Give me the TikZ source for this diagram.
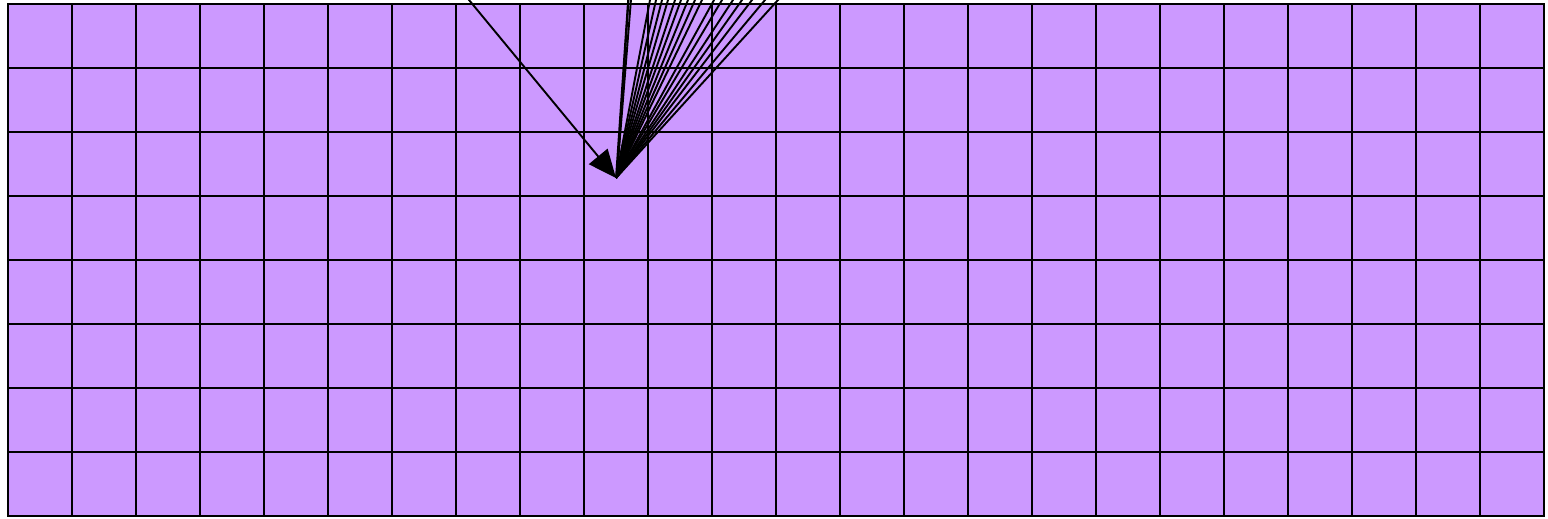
\documentclass[tikz,border=0pt]{standalone}
\usepackage{tikz}
\usetikzlibrary{arrows.meta,calc}
\definecolor{cellfill}{HTML}{CC99FF}

\begin{document}
\begin{tikzpicture}[x=1pt,y=-1pt,
  cell/.style={draw,fill=cellfill,line width=1.6pt,minimum size=64pt,inner sep=0pt,outer sep=0pt},
  edge/.style={line width=1.9pt}, >={Triangle[length=28pt,width=24pt]}]
\useasboundingbox (0,0) rectangle (1548,519);
\clip (0,0) rectangle (1548,519);
\foreach \c in {0,...,23}
  \foreach \r in {0,...,7}
    \node[cell] (CELL\c-\r) at (40+64*\c,36+64*\r) {};
\coordinate (TARGET) at (616,178);
\coordinate (TARGETB) at (618,162);
\coordinate (SRCL) at (436,-40);
\draw[edge,->] (SRCL) -- (TARGET);
\foreach \x in {650,656,662,668,675,681,688,695,702,714,722,733,742,752,765,778}
  \draw[edge] (TARGET) -- ($(TARGET)!1.25!(\x,0)$);
\draw[edge] (TARGETB) -- ++(13,-200);
\draw[edge] (TARGETB) -- ++(16,-200);
\draw[edge] (TARGET) -- ++(15,-220);
\end{tikzpicture}
\end{document}
